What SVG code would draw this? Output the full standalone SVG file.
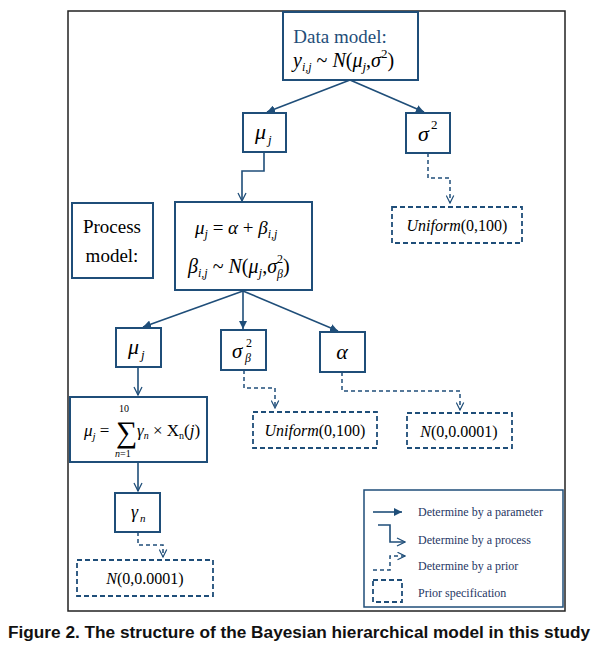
<svg xmlns="http://www.w3.org/2000/svg" width="604" height="647" viewBox="0 0 604 647">
<defs>
<marker id="fill" viewBox="0 0 10 10" refX="10" refY="5" markerWidth="5" markerHeight="5" orient="auto" markerUnits="strokeWidth"><path d="M0,0 L10,5 L0,10 z" fill="#1f4e79"/></marker>
<marker id="open" viewBox="0 0 12 12" refX="11" refY="6" markerWidth="6" markerHeight="6" orient="auto" markerUnits="strokeWidth"><path d="M1,1 L11,6 L1,11" fill="none" stroke="#1f4e79" stroke-width="1.6"/></marker>
</defs>
<style>
.frame{fill:#fff;stroke:#222;stroke-width:1.5}
.box{fill:#fff;stroke:#1f4e79;stroke-width:2}
.dbox{fill:#fff;stroke:#1f4e79;stroke-width:1.8;stroke-dasharray:5,3}
.c{fill:none;stroke:#1f4e79;stroke-width:1.6}
.d{fill:none;stroke:#1f4e79;stroke-width:1.5;stroke-dasharray:4,3}
text, tspan{font-family:'Liberation Serif','Times New Roman',serif}
</style>
<rect class="frame" x="68" y="11" width="497" height="600"/>

<g id="connectors">
<line class="c" x1="350" y1="80" x2="267" y2="112" marker-end="url(#fill)"/>
<line class="c" x1="350" y1="80" x2="424" y2="112" marker-end="url(#fill)"/>
<polyline class="c" points="264,152 264,171 242,171 242,201" marker-end="url(#open)"/>
<polyline class="d" points="428,153 428,178 450,178 450,203" marker-end="url(#open)"/>
<line class="c" x1="243" y1="291" x2="143" y2="327" marker-end="url(#fill)"/>
<line class="c" x1="243" y1="291" x2="243" y2="329" marker-end="url(#fill)"/>
<line class="c" x1="243" y1="291" x2="338" y2="331" marker-end="url(#fill)"/>
<polyline class="c" points="138,367 138,395" marker-end="url(#open)"/>
<polyline class="d" points="244,370 244,388 275,388 275,408" marker-end="url(#open)"/>
<polyline class="d" points="342,372 342,391 460,391 460,410" marker-end="url(#open)"/>
<polyline class="c" points="138,462 138,491" marker-end="url(#open)"/>
<polyline class="d" points="138,532 138,545 163,545 163,557" marker-end="url(#open)"/>
</g>

<g id="data-model">
<rect class="box" x="283" y="12" width="135" height="68"/>
<text x="340" y="43" text-anchor="middle" font-size="19" fill="#1f4e79">Data model:</text>
<text x="293" y="67" font-size="20" fill="#000"><tspan font-style="italic">y</tspan><tspan font-style="italic" font-size="12" dy="4">i,j</tspan><tspan dy="-4"> ~ </tspan><tspan font-style="italic">N</tspan>(<tspan font-style="italic">μ</tspan><tspan font-style="italic" font-size="13" dy="4">j</tspan><tspan dy="-4">,</tspan><tspan font-style="italic">σ</tspan><tspan font-size="13" dy="-9">2</tspan><tspan dy="9">)</tspan></text>
</g>

<g id="mu-j-top">
<rect class="box" x="243" y="113" width="43" height="39"/>
<text x="255" y="139" font-style="italic" font-size="22">μ</text>
<text x="268" y="144" font-style="italic" font-size="13">j</text>
</g>

<g id="sigma2">
<rect class="box" x="406" y="113" width="44" height="40"/>
<text x="418" y="141" font-style="italic" font-size="22">σ</text>
<text x="431" y="129" font-size="13">2</text>
</g>

<g id="uniform-top">
<rect class="dbox" x="392" y="207" width="130" height="36"/>
<text x="457" y="231" text-anchor="middle" font-size="16"><tspan font-style="italic">Uniform</tspan>(0,100)</text>
</g>

<g id="process-label">
<rect class="box" x="72" y="203" width="81" height="75"/>
<text x="112" y="233" text-anchor="middle" font-size="19">Process</text>
<text x="112" y="262" text-anchor="middle" font-size="19">model:</text>
</g>

<g id="process-model">
<rect class="box" x="175" y="202" width="137" height="88"/>
<text x="195" y="234" font-size="19"><tspan font-style="italic">μ</tspan><tspan font-style="italic" font-size="12" dy="4">j</tspan><tspan dy="-4"> = </tspan><tspan font-style="italic">α</tspan> + <tspan font-style="italic">β</tspan><tspan font-style="italic" font-size="12" dy="4">i,j</tspan></text>
<text x="188" y="273" font-size="20"><tspan font-style="italic">β</tspan><tspan font-style="italic" font-size="12" dy="4">i,j</tspan><tspan dy="-4"> ~ </tspan><tspan font-style="italic">N</tspan>(<tspan font-style="italic">μ</tspan><tspan font-style="italic" font-size="13" dy="4">j</tspan><tspan dy="-4">,</tspan><tspan font-style="italic">σ</tspan><tspan font-size="12" dy="-10">2</tspan><tspan font-style="italic" font-size="12" dx="-6" dy="15">β</tspan><tspan dy="-5">)</tspan></text>
</g>

<g id="mu-j-mid">
<rect class="box" x="116" y="328" width="45" height="39"/>
<text x="128" y="354" font-style="italic" font-size="22">μ</text>
<text x="141" y="359" font-style="italic" font-size="13">j</text>
</g>

<g id="sigma-beta">
<rect class="box" x="221" y="330" width="45" height="40"/>
<text x="232" y="358" font-style="italic" font-size="21">σ</text>
<text x="246" y="347" font-size="12">2</text>
<text x="245" y="362" font-style="italic" font-size="12">β</text>
</g>

<g id="alpha">
<rect class="box" x="320" y="332" width="45" height="40"/>
<text x="342" y="359" text-anchor="middle" font-style="italic" font-size="22">α</text>
</g>

<g id="uniform-mid">
<rect class="dbox" x="253" y="412" width="124" height="36"/>
<text x="315" y="436" text-anchor="middle" font-size="16"><tspan font-style="italic">Uniform</tspan>(0,100)</text>
</g>

<g id="normal-alpha">
<rect class="dbox" x="407" y="413" width="105" height="35"/>
<text x="459" y="437" text-anchor="middle" font-size="16"><tspan font-style="italic">N</tspan>(0,0.0001)</text>
</g>

<g id="sum-model">
<rect class="box" x="70" y="397" width="137" height="65"/>
<text x="84" y="436" font-size="17"><tspan font-style="italic">μ</tspan><tspan font-style="italic" font-size="11" dy="4">j</tspan><tspan dy="-4"> =</tspan></text>
<text x="116" y="442" font-size="30">∑</text>
<text x="119" y="412" font-size="10">10</text>
<text x="115" y="457" font-size="10"><tspan font-style="italic">n</tspan>=1</text>
<text x="137" y="436" font-size="17"><tspan font-style="italic">γ</tspan><tspan font-style="italic" font-size="10" dy="3">n</tspan><tspan dy="-3"> × X</tspan><tspan font-size="10" dy="3">n</tspan><tspan dy="-3">(</tspan><tspan font-style="italic">j</tspan>)</text>
</g>

<g id="gamma-n">
<rect class="box" x="115" y="493" width="45" height="39"/>
<text x="131" y="518" font-style="italic" font-size="18">γ</text>
<text x="140" y="522" font-style="italic" font-size="11">n</text>
</g>

<g id="normal-gamma">
<rect class="dbox" x="77" y="560" width="136" height="36"/>
<text x="145" y="584" text-anchor="middle" font-size="16"><tspan font-style="italic">N</tspan>(0,0.0001)</text>
</g>

<g id="legend">
<rect fill="#fff" stroke="#1f4e79" stroke-width="1.5" x="364" y="490" width="199" height="117"/>
<line class="c" x1="373" y1="512" x2="402" y2="512" marker-end="url(#fill)"/>
<text x="418" y="516" font-size="12" fill="#1f3864">Determine by a parameter</text>
<polyline class="c" points="378,525 390,525 390,542 405,542" marker-end="url(#open)"/>
<text x="418" y="544" font-size="12" fill="#1f3864">Determine by a process</text>
<polyline class="d" points="373,570 390,570 390,556 405,556" marker-end="url(#open)"/>
<text x="418" y="570" font-size="12" fill="#1f3864">Determine by a prior</text>
<rect class="dbox" x="373" y="580" width="29" height="22"/>
<text x="418" y="597" font-size="12" fill="#1f3864">Prior specification</text>
</g>

<text x="299" y="638" text-anchor="middle" style="font-family:'Liberation Sans',Arial,sans-serif;font-weight:bold;font-size:16px;fill:#111" textLength="582" lengthAdjust="spacingAndGlyphs">Figure 2. The structure of the Bayesian hierarchical model in this study</text>
</svg>
